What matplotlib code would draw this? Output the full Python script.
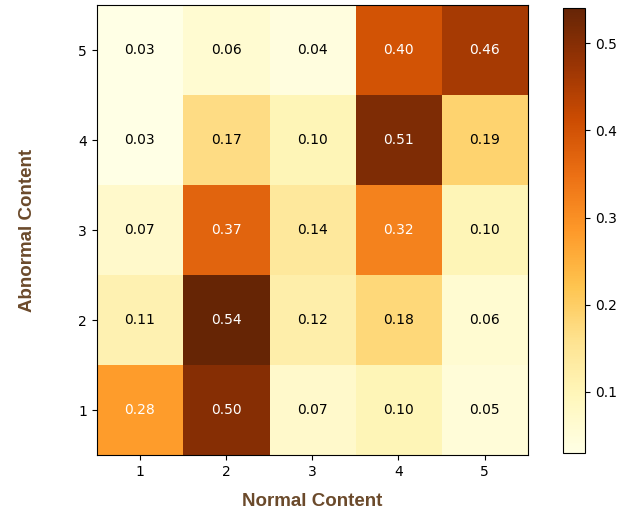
import numpy as np
import matplotlib.pyplot as plt

normal = [1, 2, 3, 4, 5]
abnormal = [1, 2, 3, 4, 5]
# rows: abnormal content 1..5, columns: normal content 1..5
values = np.array([
    [0.28, 0.50, 0.07, 0.10, 0.05],
    [0.11, 0.54, 0.12, 0.18, 0.06],
    [0.07, 0.37, 0.14, 0.32, 0.10],
    [0.03, 0.17, 0.10, 0.51, 0.19],
    [0.03, 0.06, 0.04, 0.40, 0.46],
])

label_color = "#6b4a2b"

fig = plt.figure(figsize=(6.32, 5.13), dpi=100)
ax = fig.add_axes([0.153, 0.113, 0.682, 0.877])
cax = fig.add_axes([0.891, 0.117, 0.035, 0.867])

im = ax.imshow(values, cmap="YlOrBr", origin="lower", aspect="auto",
               extent=[0.5, 5.5, 0.5, 5.5], vmin=values.min(), vmax=values.max())

for i in range(len(abnormal)):
    for j in range(len(normal)):
        v = values[i, j]
        c = "white" if v > 0.27 else "black"
        ax.text(normal[j], abnormal[i], f"{v:.2f}", ha="center", va="center",
                color=c, fontsize=10)

ax.set_xticks(normal)
ax.set_yticks(abnormal)
ax.tick_params(labelsize=10)
ax.set_xlabel("Normal Content", fontsize=13.5, fontweight="bold", color=label_color,
              labelpad=10, family="Liberation Sans")
ax.set_ylabel("Abnormal Content", fontsize=13.5, fontweight="bold", color=label_color,
              labelpad=30, family="Liberation Sans")

cb = fig.colorbar(im, cax=cax)
cb.set_ticks([0.1, 0.2, 0.3, 0.4, 0.5])
cb.ax.tick_params(labelsize=10)

fig.savefig("out.png", dpi=100)
